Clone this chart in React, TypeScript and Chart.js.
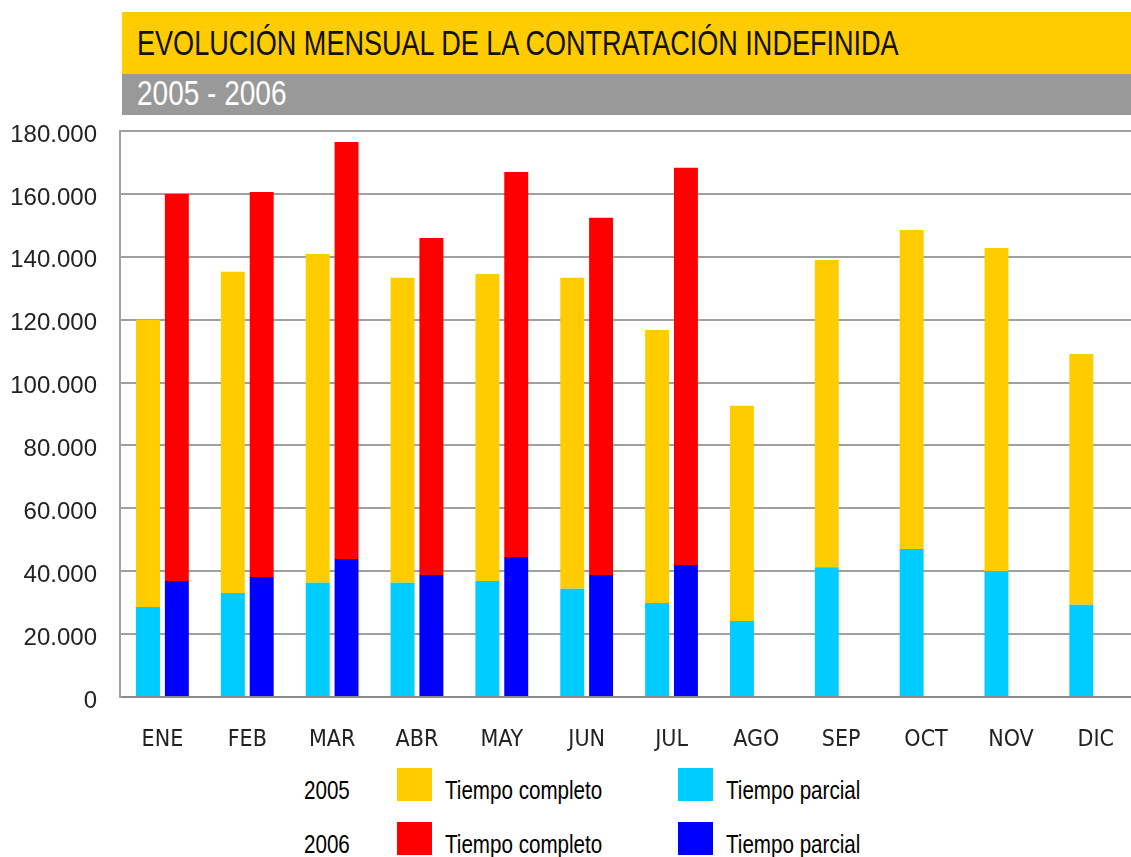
import React, { useEffect, useRef } from "react";
import { Chart, registerables } from "chart.js";

Chart.register(...registerables);

const months = ["ENE", "FEB", "MAR", "ABR", "MAY", "JUN", "JUL", "AGO", "SEP", "OCT", "NOV", "DIC"];

const parcial2005 = [28600, 33100, 36300, 36300, 36900, 34400, 29900, 24200, 41300, 47100, 40100, 29300];
const completo2005 = [91400, 102100, 104600, 97000, 97600, 98900, 86800, 68400, 97700, 101400, 102700, 79800];
const parcial2006 = [36900, 38200, 43900, 38800, 44500, 38800, 42000, null, null, null, null, null];
const completo2006 = [123100, 122400, 132600, 107200, 122500, 113600, 126300, null, null, null, null, null];

const yTicks = [0, 20000, 40000, 60000, 80000, 100000, 120000, 140000, 160000, 180000];

const titleText = "EVOLUCIÓN MENSUAL DE LA CONTRATACIÓN INDEFINIDA";
const subtitleText = "2005 - 2006";

const legendRows = [
  { year: "2005", items: [{ label: "Tiempo completo", color: "#FFCC00" }, { label: "Tiempo parcial", color: "#00CCFF" }] },
  { year: "2006", items: [{ label: "Tiempo completo", color: "#FF0000" }, { label: "Tiempo parcial", color: "#0000FF" }] },
];

const NARROW = "'Liberation Sans Narrow', 'DejaVu Sans Condensed', 'Arial Narrow', sans-serif";
const SANS = "'Liberation Sans', Arial, sans-serif";

function fmt(v: number): string {
  return String(v).replace(/\B(?=(\d{3})+(?!\d))/g, ".");
}

export default function App() {
  const canvasRef = useRef<HTMLCanvasElement | null>(null);

  useEffect(() => {
    if (!canvasRef.current) return;
    const chart = new Chart(canvasRef.current, {
      type: "bar",
      data: {
        labels: months,
        datasets: [
          { label: "2005 Tiempo parcial", data: parcial2005, backgroundColor: "#00CCFF", stack: "2005" },
          { label: "2005 Tiempo completo", data: completo2005, backgroundColor: "#FFCC00", stack: "2005" },
          { label: "2006 Tiempo parcial", data: parcial2006, backgroundColor: "#0000FF", stack: "2006" },
          { label: "2006 Tiempo completo", data: completo2006, backgroundColor: "#FF0000", stack: "2006" },
        ],
      },
      options: {
        responsive: false,
        animation: false,
        layout: { padding: { top: 131, left: 0, right: 0, bottom: 0 } },
        datasets: {
          bar: { categoryPercentage: 0.68, barPercentage: 0.83, borderWidth: 0 },
        },
        plugins: {
          legend: { display: false },
          tooltip: { enabled: false },
          title: { display: false },
        },
        scales: {
          x: {
            stacked: true,
            grid: { color: "rgba(0,0,0,0)", drawTicks: false },
            border: { display: true, color: "#8c8c8c", width: 2 },
            ticks: {
              color: "#222",
              font: { family: NARROW, size: 23 },
              padding: 29,
              maxRotation: 0,
              autoSkip: false,
            },
            afterFit: (scale: any) => {
              scale.height = 63;
            },
          },
          y: {
            stacked: true,
            min: 0,
            max: 180000,
            afterBuildTicks: (scale: any) => {
              scale.ticks = yTicks.map((v) => ({ value: v }));
            },
            grid: { color: "#a0a0a0", lineWidth: 2, drawTicks: false },
            border: { display: true, color: "#a0a0a0", width: 2 },
            ticks: {
              color: "#222",
              font: { family: SANS, size: 24 },
              padding: 23,
              labelOffset: 4,
              callback: (v: any) => fmt(Number(v)),
            },
            afterFit: (scale: any) => {
              scale.width = 120;
            },
          },
        },
      },
    });
    return () => chart.destroy();
  }, []);

  const narrowText = (scale: number): React.CSSProperties => ({
    position: "absolute",
    fontFamily: SANS,
    whiteSpace: "nowrap",
    transform: `scaleX(${scale})`,
    transformOrigin: "0 0",
  });

  return (
    <div
      style={{
        position: "absolute",
        left: 0,
        top: 0,
        width: 1131,
        height: 857,
        overflow: "hidden",
        background: "#fff",
      }}
    >
      <canvas
        ref={canvasRef}
        width={1143}
        height={760}
        style={{ position: "absolute", left: 0, top: 0, width: 1143, height: 760 }}
      />
      <div style={{ position: "absolute", left: 122, top: 12, width: 1009, height: 62, background: "#FFCC00" }} />
      <div style={{ position: "absolute", left: 122, top: 74, width: 1009, height: 41, background: "#999999" }} />
      <div
        style={{
          ...narrowText(0.773),
          left: 137,
          top: 25,
          fontSize: 35,
          lineHeight: "35px",
          color: "#111",
        }}
      >
        {titleText}
      </div>
      <div
        style={{
          ...narrowText(0.8),
          left: 137,
          top: 75,
          fontSize: 35,
          lineHeight: "35px",
          color: "#fff",
        }}
      >
        {subtitleText}
      </div>
      {legendRows.map((row, ri) => {
        const sqTop = 768 + ri * 54;
        const txtTop = 777.5 + ri * 54;
        const txtStyle: React.CSSProperties = {
          ...narrowText(0.824),
          top: txtTop,
          fontSize: 25,
          lineHeight: "25px",
          color: "#000",
        };
        return (
          <React.Fragment key={row.year}>
            <div style={{ ...txtStyle, left: 304 }}>{row.year}</div>
            <div style={{ position: "absolute", left: 397, top: sqTop, width: 35, height: 33, background: row.items[0].color }} />
            <div style={{ ...txtStyle, left: 445 }}>{row.items[0].label}</div>
            <div style={{ position: "absolute", left: 678, top: sqTop, width: 35, height: 33, background: row.items[1].color }} />
            <div style={{ ...txtStyle, left: 726 }}>{row.items[1].label}</div>
          </React.Fragment>
        );
      })}
    </div>
  );
}
